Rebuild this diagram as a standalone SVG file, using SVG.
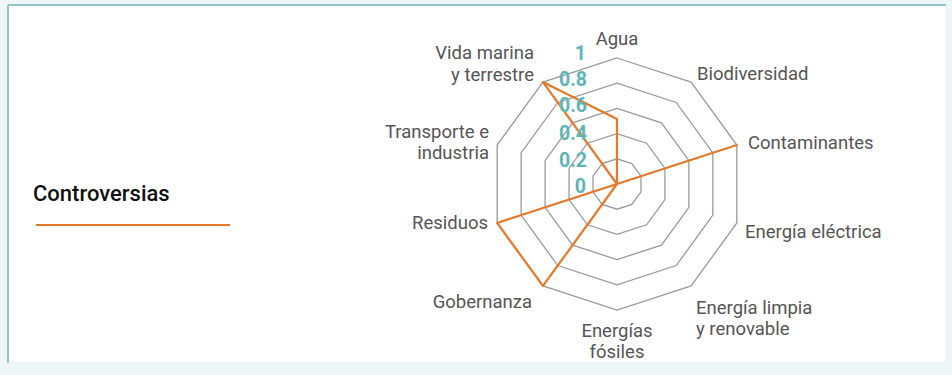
<svg xmlns="http://www.w3.org/2000/svg" width="952" height="375" viewBox="0 0 952 375">
<style>
.ring{fill:none;stroke:#9a9a9a;stroke-width:1.3}
.cat{font-family:Roboto,"Liberation Sans",sans-serif;font-size:18.5px;fill:#555}
.val{font-family:Roboto,"Liberation Sans",sans-serif;font-size:19.5px;font-weight:700;fill:#5cb6b8}
.series{fill:none;stroke:#e6782a;stroke-width:2.2;stroke-linejoin:round}
</style>
<rect x="0" y="0" width="952" height="375" fill="#eef6f8"/>
<rect x="8" y="5" width="938" height="358" fill="#ffffff" stroke="#e4eff2" stroke-width="1"/>
<line x1="8" y1="5" x2="946" y2="5" stroke="#8fc7ca" stroke-width="2"/>
<line x1="8" y1="5" x2="8" y2="363" stroke="#8fc7ca" stroke-width="2"/>

<g id="legend">
<text x="33" y="201" font-family="Roboto,'Liberation Sans',sans-serif" font-size="22" font-weight="500" fill="#111">Controversias</text>
<line x1="36" y1="225" x2="230" y2="225" stroke="#e6782a" stroke-width="2.2"/>
</g>

<g id="grid">
<polygon class="ring" points="617,58 691.06,82.07 736.84,145.07 736.84,222.93 691.06,285.93 617,310 542.94,285.93 497.16,222.93 497.16,145.07 542.94,82.07"/>
<polygon class="ring" points="617,83.2 676.25,102.45 712.87,152.85 712.87,215.15 676.25,265.55 617,284.8 557.75,265.55 521.13,215.15 521.13,152.85 557.75,102.45"/>
<polygon class="ring" points="617,108.4 661.44,122.84 688.9,160.64 688.9,207.36 661.44,245.16 617,259.6 572.56,245.16 545.1,207.36 545.1,160.64 572.56,122.84"/>
<polygon class="ring" points="617,133.6 646.63,143.23 664.93,168.43 664.93,199.57 646.63,224.77 617,234.4 587.37,224.77 569.07,199.57 569.07,168.43 587.37,143.23"/>
<polygon class="ring" points="617,158.8 631.81,163.61 640.97,176.21 640.97,191.79 631.81,204.39 617,209.2 602.19,204.39 593.03,191.79 593.03,176.21 602.19,163.61"/>
</g>

<g id="connectors">
<polygon class="series" points="617,119 617,184 736.84,145.07 617,184 617,184 617,184 542.94,285.93 497.16,222.93 617,184 542.94,82.07"/>
</g>

<g id="scale">
<text class="val" x="586" y="60" text-anchor="end">1</text>
<text class="val" x="587" y="86" text-anchor="end">0.8</text>
<text class="val" x="587" y="112" text-anchor="end">0.6</text>
<text class="val" x="587" y="140" text-anchor="end">0.4</text>
<text class="val" x="587" y="167" text-anchor="end">0.2</text>
<text class="val" x="586" y="193" text-anchor="end">0</text>
</g>

<g id="n-agua"><text class="cat" x="617" y="45" text-anchor="middle">Agua</text></g>
<g id="n-biodiversidad"><text class="cat" x="697" y="80">Biodiversidad</text></g>
<g id="n-contaminantes"><text class="cat" x="748" y="149">Contaminantes</text></g>
<g id="n-electrica"><text class="cat" x="745" y="238">Energía eléctrica</text></g>
<g id="n-limpia"><text class="cat" x="696" y="314">Energía limpia</text><text class="cat" x="696" y="335">y renovable</text></g>
<g id="n-fosiles"><text class="cat" x="617" y="337" text-anchor="middle">Energías</text><text class="cat" x="617" y="358" text-anchor="middle">fósiles</text></g>
<g id="n-gobernanza"><text class="cat" x="532" y="308" text-anchor="end">Gobernanza</text></g>
<g id="n-residuos"><text class="cat" x="488" y="229" text-anchor="end">Residuos</text></g>
<g id="n-transporte"><text class="cat" x="489" y="138" text-anchor="end">Transporte e</text><text class="cat" x="489" y="159" text-anchor="end">industria</text></g>
<g id="n-vida"><text class="cat" x="534" y="59" text-anchor="end">Vida marina</text><text class="cat" x="534" y="81" text-anchor="end">y terrestre</text></g>
</svg>
